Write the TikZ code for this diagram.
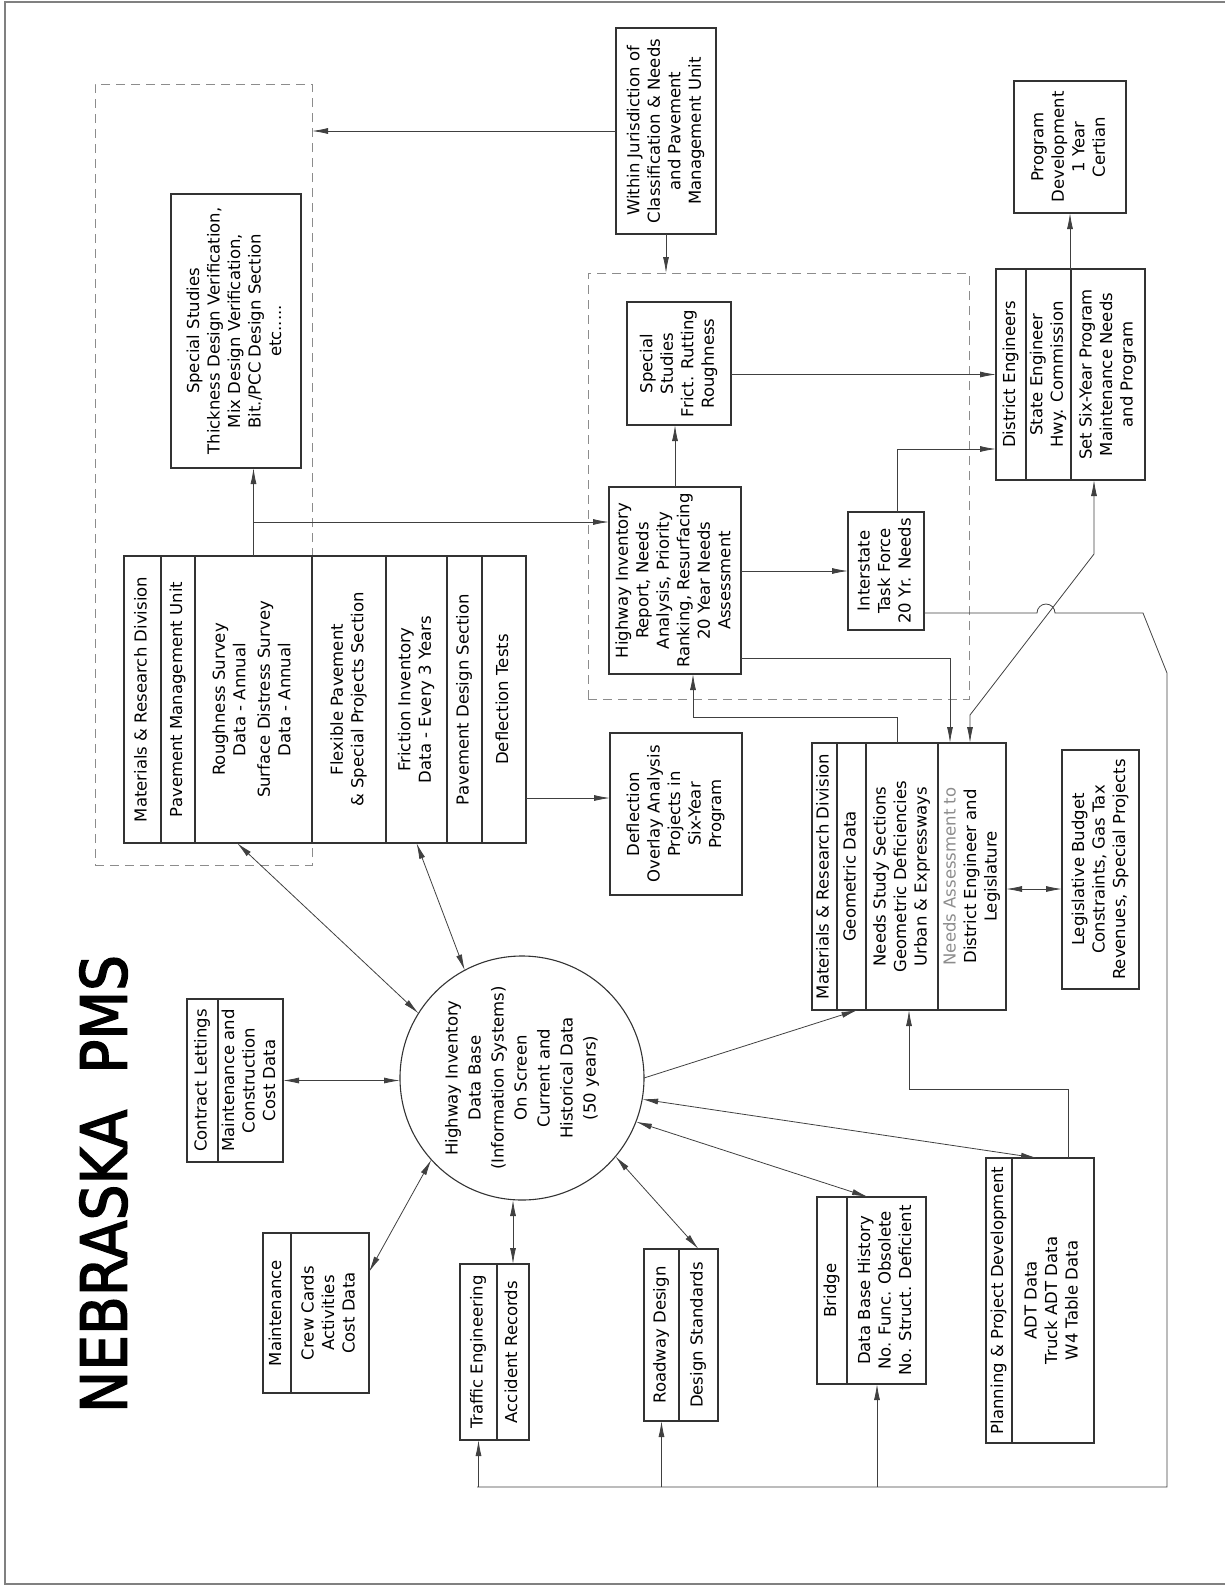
\documentclass[tikz,border=0pt]{standalone}
\usepackage{fontspec}
\setmainfont{DejaVu Sans}
\newfontfamily\titlefont[FakeBold=2.5]{DejaVu Sans}
\usepackage{graphicx}
\usetikzlibrary{positioning, calc, arrows.meta}

\newcommand{\vtext}[1]{\rotatebox{90}{\begin{tabular}{@{}c@{}}#1\end{tabular}}}

\begin{document}
\begin{tikzpicture}[
    x=1pt, y=-1pt,
    cell/.style={rectangle, draw=black!80, line width=1.1pt, inner sep=0pt, outer sep=0pt, font={\fontsize{16.5}{20.5}\selectfont}},
    group/.style={rectangle, draw=black!45, line width=1pt, dash pattern=on 9pt off 6pt, inner sep=0pt, outer sep=0pt},
    arrow/.style={-{Latex[length=16pt,width=6pt]}, draw=black!75, line width=0.8pt},
    twoway/.style={{Latex[length=16pt,width=6pt]}-{Latex[length=16pt,width=6pt]}, draw=black!75, line width=0.8pt},
    wire/.style={draw=black!75, line width=0.8pt}
]
    \useasboundingbox (0,0) rectangle (1225,1585);
    \draw[black!50, line width=2pt] (5,1.5) rectangle (1228,1584);

    \node (title) at (103.5,1184) {\rotatebox{90}{\resizebox{458pt}{47pt}{\titlefont NEBRASKA\ \ PMS}}};

    \node[group, minimum width=217pt, minimum height=781pt] (grp1) at (203.5,474.5) {};
    \node[group, minimum width=381pt, minimum height=426pt] (grp2) at (778.5,486) {};

    \node[cell, minimum width=130pt, minimum height=274pt] (ss1) at (236,331) {\vtext{Special Studies\\Thickness Design Verification,\\Mix Design Verification,\\Bit./PCC Design Section\\etc.....}};
    \node[cell, minimum width=100pt, minimum height=206pt] (wj) at (666,131) {\vtext{Within Jurisdiction of\\Classification \& Needs\\and Pavement\\Management Unit}};
    \node[cell, minimum width=104pt, minimum height=123pt] (ss2) at (679,363.5) {\vtext{Special\\Studies\\Frict. Rutting\\Roughness}};
    \node[cell, minimum width=132pt, minimum height=187pt] (hir) at (675,580.5) {\vtext{Highway Inventory\\Report, Needs\\Analysis, Priority\\Ranking, Resurfacing\\20 Year Needs\\Assessment}};
    \node[cell, minimum width=76pt, minimum height=118pt] (itf) at (886,571) {\vtext{Interstate\\Task Force\\20 Yr. Needs}};
    \node[cell, minimum width=112pt, minimum height=132pt] (pd) at (1070,147) {\vtext{Program\\Development\\1 Year\\Certian}};
    \node[cell, minimum width=132pt, minimum height=162pt] (dfl) at (676,814) {\vtext{Deflection\\Overlay Analysis\\Projects in\\Six-Year\\Program}};
    \node[cell, minimum width=77pt, minimum height=239pt] (leg) at (1100.5,869.5) {\vtext{Legislative Budget\\Constraints, Gas Tax\\Revenues, Special Projects}};

    \node[cell, minimum width=37pt, minimum height=287pt] (mr1a) at (142.5,699.5) {\vtext{Materials \& Research Division}};
    \node[cell, minimum width=34pt, minimum height=287pt, right=0pt of mr1a] (mr1b) {\vtext{Pavement Management Unit}};
    \node[cell, minimum width=117pt, minimum height=287pt, right=0pt of mr1b] (mr1c) {\vtext{Roughness Survey\\Data - Annual\\[4pt]Surface Distress Survey\\Data - Annual}};
    \node[cell, minimum width=74pt, minimum height=287pt, right=0pt of mr1c] (mr1d) {\vtext{Flexible Pavement\\\& Special Projects Section}};
    \node[cell, minimum width=61pt, minimum height=287pt, right=0pt of mr1d] (mr1e) {\vtext{Friction Inventory\\Data - Every 3 Years}};
    \node[cell, minimum width=35pt, minimum height=287pt, right=0pt of mr1e] (mr1f) {\vtext{Pavement Design Section}};
    \node[cell, minimum width=44pt, minimum height=287pt, right=0pt of mr1f] (mr1g) {\vtext{Deflection Tests}};

    \node[cell, minimum width=25pt, minimum height=267pt] (mr2a) at (824.5,876.5) {\vtext{Materials \& Research Division}};
    \node[cell, minimum width=29pt, minimum height=267pt, right=0pt of mr2a] (mr2b) {\vtext{Geometric Data}};
    \node[cell, minimum width=72pt, minimum height=267pt, right=0pt of mr2b] (mr2c) {\vtext{Needs Study Sections\\Geometric Deficiencies\\Urban \& Expressways}};
    \node[cell, minimum width=68pt, minimum height=267pt, right=0pt of mr2c] (mr2d) {\vtext{\textcolor{black!45}{Needs Assessment to}\\District Engineer and\\Legislature}};

    \node[cell, minimum width=30pt, minimum height=211pt] (de1) at (1011,374.5) {\vtext{District Engineers}};
    \node[cell, minimum width=45pt, minimum height=211pt, right=0pt of de1] (de2) {\vtext{State Engineer\\Hwy. Commission}};
    \node[cell, minimum width=74pt, minimum height=211pt, right=0pt of de2] (de3) {\vtext{Set Six-Year Program\\Maintenance Needs\\and Program}};

    \node[cell, minimum width=31pt, minimum height=163pt] (cl1) at (202.5,1080.5) {\vtext{Contract Lettings}};
    \node[cell, minimum width=65pt, minimum height=163pt, right=0pt of cl1] (cl2) {\vtext{Maintenance and\\Construction\\Cost Data}};

    \node[cell, minimum width=28pt, minimum height=160pt] (mt1) at (277,1313) {\vtext{Maintenance}};
    \node[cell, minimum width=78pt, minimum height=160pt, right=0pt of mt1] (mt2) {\vtext{Crew Cards\\Activities\\Cost Data}};

    \node[cell, minimum width=37pt, minimum height=176pt] (te1) at (478.5,1352) {\vtext{Traffic Engineering}};
    \node[cell, minimum width=32pt, minimum height=176pt, right=0pt of te1] (te2) {\vtext{Accident Records}};

    \node[cell, minimum width=35pt, minimum height=172pt] (rd1) at (661.5,1335) {\vtext{Roadway Design}};
    \node[cell, minimum width=39pt, minimum height=172pt, right=0pt of rd1] (rd2) {\vtext{Design Standards}};

    \node[cell, minimum width=30pt, minimum height=187pt] (br1) at (832,1290.5) {\vtext{Bridge}};
    \node[cell, minimum width=79pt, minimum height=187pt, right=0pt of br1] (br2) {\vtext{Data Base History\\No. Func. Obsolete\\No. Struct. Deficient}};

    \node[cell, minimum width=26pt, minimum height=285pt] (pp1) at (999,1300.5) {\vtext{Planning \& Project Development}};
    \node[cell, minimum width=82pt, minimum height=285pt, right=0pt of pp1] (pp2) {\vtext{ADT Data\\Truck ADT Data\\W4 Table Data}};

    \node[cell, circle, minimum size=244pt, font={\fontsize{16.5}{23}\selectfont}] (db) at (522,1078) {\vtext{Highway Inventory\\Data Base\\(Information Systems)\\On Screen\\Current and\\Historical Data\\(50 years)}};

    \draw[arrow] (wj.west) -- (wj.west -| grp1.east);
    \draw[arrow] (wj.south) -- (wj.south |- grp2.north);
    \draw[arrow] (mr1c.north) -- (mr1c.north |- ss1.south);
    \coordinate (split) at ($(mr1c.north)+(0,-34)$);
    \draw[arrow] (split) -- (split -| hir.west);
    \draw[arrow] (hir.north) -- (hir.north |- ss2.south);
    \draw[arrow] (ss2.east |- de1.west) -- (de1.west);
    \draw[arrow] (hir.east |- itf.west) -- (itf.west);
    \draw[arrow] (pd.south |- de1.north) -- (pd.south);
    \draw[arrow] ($(itf.north)+(11,0)$) |- ($(de1.west)+(0,74.5)$);
    \draw[arrow] ($(hir.east)+(0,77.5)$) -| ($(mr2d.north)+(-22,0)$);
    \draw[arrow] ($(mr2c.north)+(-5,0)$) |- ($(hir.south)+(18,43)$) -- ($(hir.south)+(18,0)$);
    \draw[twoway] ($(de3.south)+(-14,0)$) -- ++(0,74) -- ($(mr2d.north)+(-2,-28)$) -- ($(mr2d.north)+(-2,0)$);

    \coordinate (busturn) at (1167,673);
    \coordinate (busend) at (477,1487);
    \draw[wire] ($(itf.east)+(0,42)$) -- ++(113,0) arc[start angle=180, end angle=0, radius=9pt] -- ++(88,0) -- (busturn) |- (busend);
    \draw[arrow] (te1.south |- busend) -- (te1.south);
    \draw[arrow] (rd1.south |- busend) -- (rd1.south);
    \coordinate (brin) at ($(br2.south)+(-9.5,0)$);
    \draw[arrow] (brin |- busend) -- (brin);

    \coordinate (dflin) at ($(dfl.west)+(0,-16)$);
    \draw[arrow] (mr1g.east |- dflin) -- (dflin);
    \coordinate (legin) at ($(leg.west)+(0,19.5)$);
    \draw[twoway] (mr2d.east |- legin) -- (legin);
    \draw[arrow] ($(pp2.north)+(15,0)$) |- ($(mr2c.south)+(7,79)$) -- ($(mr2c.south)+(7,0)$);

    \draw[arrow] (db.east) -- ($(mr2b.south)+(6,0)$);
    \draw[twoway] (db.-10) -- ($(pp2.north)+(-16,0)$);
    \draw[twoway] (db.-21) -- ($(br2.north)+(-18.5,0)$);
    \draw[twoway] (db.-40) -- (rd2.north);
    \draw[twoway] (db.south -| te2.north) -- (te2.north);
    \draw[twoway] (db.-138) -- ($(mt2.east)+(0,-41)$);
    \draw[twoway] (cl2.east) -- (cl2.east -| db.west);
    \draw[twoway] ($(mr1c.south)+(-16.5,0)$) -- (db.148);
    \draw[twoway] (mr1e.south) -- (db.118);
\end{tikzpicture}
\end{document}
